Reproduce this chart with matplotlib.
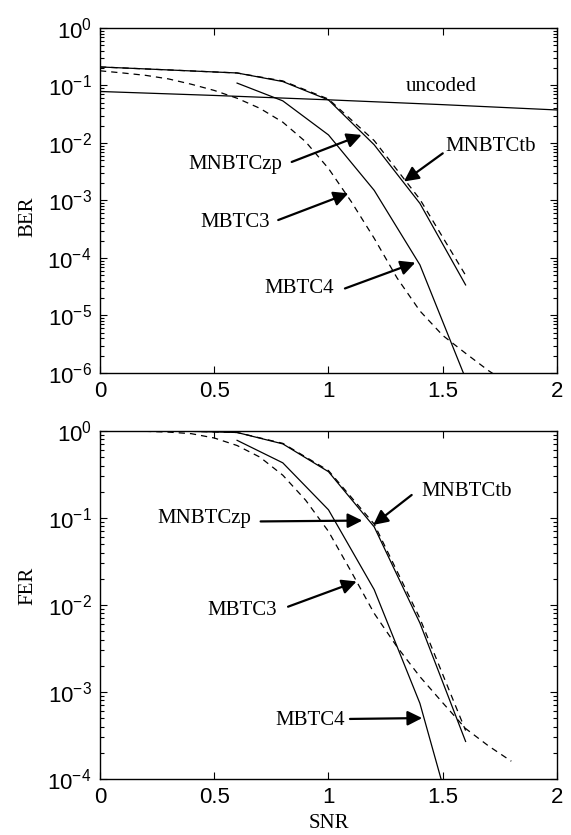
import numpy as np
import matplotlib
matplotlib.use('Agg')
from matplotlib import pyplot as plt
from matplotlib.ticker import LogLocator, NullFormatter

plt.rcParams['font.family'] = ['Liberation Sans', 'DejaVu Sans']
plt.rcParams['mathtext.fontset'] = 'custom'
plt.rcParams['mathtext.rm'] = 'Liberation Sans'
plt.rcParams['mathtext.it'] = 'Liberation Sans:italic'

# BER podaci (gornji graf)
snr_unc = [0.0, 0.5, 1.0, 1.5, 2.0]
ber_unc = [0.0786, 0.0671, 0.0563, 0.0464, 0.0375]

snr_nb = [0.0, 0.2, 0.4, 0.6, 0.8, 1.0, 1.2, 1.4, 1.6]
ber_zp = [0.21, 0.194, 0.179, 0.165, 0.117, 0.056, 9.3e-3, 8.9e-4, 3.4e-5]
ber_tb = [0.21, 0.194, 0.179, 0.165, 0.12, 0.058, 1.1e-2, 1.05e-3, 5.0e-5]

snr_m4 = [0.6, 0.8, 1.0, 1.2, 1.4, 1.6]
ber_m4 = [0.11, 0.054, 0.0138, 1.5e-3, 7.6e-5, 8e-7]

snr_m3 = [0.0, 0.1, 0.2, 0.3, 0.4, 0.5, 0.6, 0.7, 0.8, 0.9,
          1.0, 1.1, 1.2, 1.3, 1.4, 1.5, 1.6, 1.7, 1.8]
ber_m3 = [0.18, 0.165, 0.15, 0.13, 0.105, 0.082, 0.06, 0.04, 0.023, 0.0105,
          3.6e-3, 9.5e-4, 2.2e-4, 4.5e-5, 1.2e-5, 4.5e-6, 2.2e-6, 1.1e-6, 6e-7]

# FER podaci (donji graf)
fer_zp = [1.0, 1.0, 0.99, 0.96, 0.71, 0.34, 0.079, 6.2e-3, 2.7e-4]
fer_tb = [1.0, 1.0, 0.99, 0.96, 0.72, 0.35, 0.085, 7.0e-3, 3.6e-4]

snr_m4f = [0.6, 0.8, 1.0, 1.2, 1.4, 1.5]
fer_m4 = [0.78, 0.43, 0.124, 0.015, 7.4e-4, 8.5e-5]

fer_m3 = [1.0, 1.0, 0.99, 0.97, 0.93, 0.83, 0.68, 0.5, 0.31, 0.16,
          0.07, 0.024, 8e-3, 3.3e-3, 1.5e-3, 7.5e-4, 3.8e-4, 2.4e-4, 1.6e-4]

serif = 'Liberation Serif'
lw = 0.9
dash = (0, (5, 4))


def style_axes(ax, ymin):
    ax.set_yscale('log')
    ax.set_xlim(0, 2)
    ax.set_ylim(ymin, 1)
    ax.set_xticks([0, 0.5, 1, 1.5, 2])
    ax.set_xticklabels(['0', '0.5', '1', '1.5', '2'])
    ax.yaxis.set_major_locator(LogLocator(base=10, numticks=20))
    ax.yaxis.set_minor_locator(LogLocator(base=10, subs=np.arange(2, 10), numticks=20))
    ax.yaxis.set_minor_formatter(NullFormatter())
    ax.tick_params(which='both', direction='in', top=True, right=True, width=0.8)
    ax.tick_params(which='major', length=5, labelsize=16)
    ax.tick_params(which='minor', length=3)
    ax.tick_params(axis='x', pad=6)
    ax.tick_params(axis='y', pad=6)
    for s in ax.spines.values():
        s.set_linewidth(1.0)


def arrow(ax, text, xy, xytext, tpos):
    ax.text(tpos[0], tpos[1], text, family=serif, fontsize=15, ha='center', va='center')
    ax.annotate('', xy=xy, xytext=xytext,
                arrowprops=dict(arrowstyle='-|>', color='black', lw=1.6,
                                mutation_scale=22, shrinkA=0, shrinkB=0))


fig = plt.figure(figsize=(5.71, 8.35), dpi=100)

# gornji graf - BER
ax1 = fig.add_axes([0.1751, 0.5533, 0.8004, 0.4132])
ax1.plot(snr_unc, ber_unc, 'k-', lw=lw)
ax1.plot(snr_nb, ber_zp, 'k-', lw=lw)
ax1.plot(snr_nb, ber_tb, 'k', ls=dash, lw=lw)
ax1.plot(snr_m4, ber_m4, 'k-', lw=lw)
ax1.plot(snr_m3, ber_m3, 'k', ls=dash, lw=lw)
style_axes(ax1, 1e-6)
ax1.set_ylabel('BER', family=serif, fontsize=15)
ax1.yaxis.set_label_coords(-0.138, 0.452)

ax1.text(1.495, 10**-1.02, 'uncoded', family=serif, fontsize=15, ha='center', va='center')
arrow(ax1, 'MNBTCzp', (1.145, 10**-1.86), (0.839, 10**-2.33), (0.591, 10**-2.38))
arrow(ax1, 'MNBTCtb', (1.33, 10**-2.67), (1.50, 10**-2.18), (1.709, 10**-2.06))
arrow(ax1, 'MBTC3', (1.087, 10**-2.875), (0.78, 10**-3.34), (0.591, 10**-3.39))
arrow(ax1, 'MBTC4', (1.38, 10**-4.08), (1.072, 10**-4.53), (0.87, 10**-4.53))

# donji graf - FER
ax2 = fig.add_axes([0.1751, 0.0671, 0.8004, 0.4168])
ax2.plot(snr_nb, fer_zp, 'k-', lw=lw)
ax2.plot(snr_nb, fer_tb, 'k', ls=dash, lw=lw)
ax2.plot(snr_m4f, fer_m4, 'k-', lw=lw)
ax2.plot(snr_m3, fer_m3, 'k', ls=dash, lw=lw)
style_axes(ax2, 1e-4)
ax2.set_ylabel('FER', family=serif, fontsize=15)
ax2.yaxis.set_label_coords(-0.138, 0.555)
ax2.set_xlabel('SNR', family=serif, fontsize=15)
ax2.xaxis.set_label_coords(0.5, -0.1)

arrow(ax2, 'MNBTCtb', (1.196, 10**-1.08), (1.364, 10**-0.736), (1.605, 10**-0.70))
arrow(ax2, 'MNBTCzp', (1.148, 10**-1.03), (0.703, 10**-1.04), (0.455, 10**-1.01))
arrow(ax2, 'MBTC3', (1.123, 10**-1.73), (0.823, 10**-2.02), (0.623, 10**-2.06))
arrow(ax2, 'MBTC4', (1.41, 10**-3.30), (1.094, 10**-3.31), (0.919, 10**-3.33))

fig.savefig('out.png', dpi=100)
